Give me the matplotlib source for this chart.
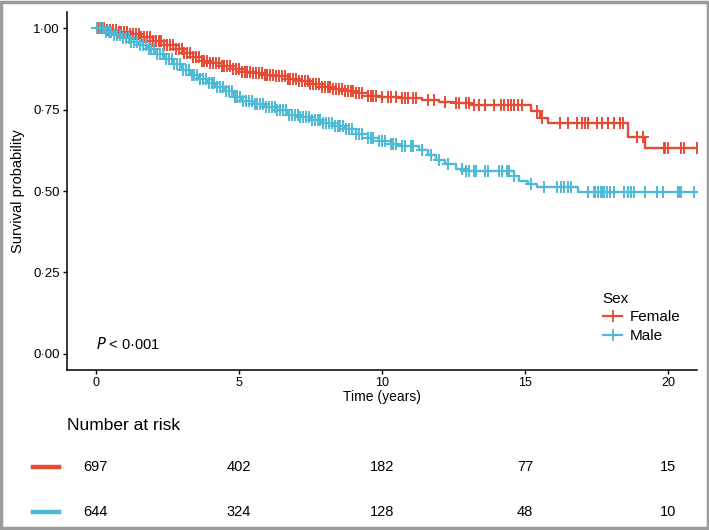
import numpy as np
import matplotlib
matplotlib.use("Agg")
import matplotlib.pyplot as plt
from matplotlib.lines import Line2D
from matplotlib.patches import Rectangle
import matplotlib.transforms as mtransforms

plt.rcParams['font.family'] = ['Liberation Sans', 'DejaVu Sans']

# Kaplan-Meier step knots
fem_t = [0, 0.4, 0.8, 1.2, 1.6, 2.0, 2.4, 2.8, 3.1, 3.4, 3.7, 4.0, 4.4, 4.8, 5.1, 5.5,
         5.9, 6.3, 6.7, 7.1, 7.5, 7.9, 8.3, 8.7, 9.1, 9.5, 10.0, 10.6, 11.4, 12.0, 12.5,
         13.1, 15.2, 15.5, 15.8, 18.6, 19.2, 21.0]
fem_s = [1.0, 0.995, 0.99, 0.982, 0.972, 0.962, 0.95, 0.937, 0.925, 0.912, 0.899, 0.893,
         0.884, 0.874, 0.866, 0.862, 0.857, 0.853, 0.845, 0.838, 0.830, 0.820, 0.812, 0.806,
         0.802, 0.792, 0.788, 0.785, 0.779, 0.774, 0.770, 0.763, 0.745, 0.725, 0.709, 0.666,
         0.632, 0.632]

male_t = [0, 0.3, 0.6, 0.9, 1.2, 1.5, 1.8, 2.1, 2.4, 2.7, 3.0, 3.3, 3.6, 3.9, 4.2, 4.5,
          4.8, 5.1, 5.5, 5.9, 6.3, 6.7, 7.1, 7.5, 7.9, 8.3, 8.7, 9.1, 9.5, 9.9, 10.3, 10.6,
          11.3, 11.6, 11.9, 12.2, 12.6, 12.9, 14.6, 14.8, 15.1, 15.4, 16.85, 20.9]
male_s = [1.0, 0.99, 0.98, 0.97, 0.959, 0.948, 0.935, 0.921, 0.905, 0.889, 0.872, 0.857,
          0.845, 0.832, 0.82, 0.806, 0.79, 0.776, 0.766, 0.757, 0.749, 0.735, 0.726, 0.718,
          0.709, 0.700, 0.690, 0.676, 0.664, 0.653, 0.643, 0.638, 0.625, 0.61, 0.595, 0.583,
          0.568, 0.562, 0.545, 0.53, 0.52, 0.512, 0.497, 0.497]

fem_cens = [0.1, 0.2, 0.3, 0.4, 0.5, 0.6, 0.7, 0.8, 0.9, 1.0, 1.1, 1.2, 1.3, 1.4, 1.5, 1.6,
            1.7, 1.8, 1.9, 2.0, 2.1, 2.2, 2.3, 2.4, 2.5, 2.6, 2.7, 2.8, 2.9, 3.0, 3.1, 3.2,
            3.3, 3.4, 3.5, 3.6, 3.7, 3.8, 3.9, 4.0, 4.1, 4.2, 4.3, 4.4, 4.5, 4.6, 4.7, 4.8,
            4.9, 5.0, 5.1, 5.2, 5.3, 5.4, 5.5, 5.6, 5.7, 5.8, 5.9, 6.0, 6.1, 6.2, 6.3, 6.4,
            6.5, 6.6, 6.7, 6.8, 6.9, 7.0, 7.1, 7.2, 7.3, 7.4, 7.5, 7.6, 7.7, 7.8, 7.9, 8.0,
            8.1, 8.2, 8.3, 8.4, 8.5, 8.6, 8.7, 8.8, 8.9, 9.0, 9.1, 9.2, 9.3, 9.5, 9.6, 9.7,
            9.8, 10.0, 10.2, 10.3, 10.5, 10.7, 10.8, 10.9, 11.1, 11.2, 11.6, 11.8, 12.2,
            12.6, 12.7, 12.95, 13.05, 13.2, 13.4, 13.6, 13.9, 14.15, 14.25, 14.4, 14.5,
            14.6, 14.75, 14.9, 15.4, 15.6, 16.2, 16.5, 16.8, 17.0, 17.1, 17.2, 17.5, 17.7,
            17.9, 18.1, 18.3, 18.4, 18.9, 19.1, 19.85, 19.9, 20.0, 20.45, 20.55, 21.0]
male_cens = [0.05, 0.15, 0.25, 0.35, 0.45, 0.55, 0.65, 0.75, 0.85, 0.95, 1.05, 1.15, 1.25,
             1.35, 1.45, 1.55, 1.65, 1.75, 1.85, 1.95, 2.05, 2.15, 2.25, 2.35, 2.45, 2.55,
             2.65, 2.75, 2.85, 2.95, 3.05, 3.15, 3.25, 3.35, 3.45, 3.55, 3.65, 3.75, 3.85,
             3.95, 4.05, 4.15, 4.25, 4.35, 4.45, 4.55, 4.65, 4.75, 4.85, 4.95, 5.05, 5.15,
             5.25, 5.35, 5.45, 5.55, 5.65, 5.75, 5.85, 5.95, 6.05, 6.15, 6.25, 6.35, 6.45,
             6.55, 6.65, 6.75, 6.85, 6.95, 7.05, 7.15, 7.25, 7.35, 7.45, 7.55, 7.65, 7.75,
             7.85, 7.95, 8.05, 8.15, 8.25, 8.35, 8.45, 8.55, 8.65, 8.75, 8.85, 8.95, 9.1,
             9.2, 9.3, 9.5, 9.6, 9.7, 9.9, 10.0, 10.1, 10.3, 10.4, 10.5, 10.7, 10.8, 11.0,
             11.1, 11.4, 11.7, 12.0, 12.3, 12.8, 12.95, 13.05, 13.2, 13.3, 13.6, 13.7,
             14.1, 14.2, 14.35, 14.45, 14.6, 15.2, 15.65, 16.1, 16.25, 16.35, 16.5, 16.6,
             17.2, 17.4, 17.45, 17.55, 17.65, 17.7, 17.75, 17.85, 17.95, 18.1, 18.45, 18.6,
             18.7, 18.8, 19.2, 19.6, 19.8, 20.35, 20.4, 20.45, 20.9]

groups = ["Female", "Male"]
colors = ["#E64B35", "#4DBBD5"]
risk_times = [0, 5, 10, 15, 20]
risk_fem = [697, 402, 182, 77, 15]
risk_male = [644, 324, 128, 48, 10]


def surv_at(times, t_knots, s_knots):
    idx = np.searchsorted(t_knots, times, side="right") - 1
    return np.array(s_knots)[idx]


fig = plt.figure(figsize=(7.09, 5.30), dpi=100)
ax = fig.add_axes([67 / 709, 1 - 370 / 530, 630 / 709, 358 / 530])

curves = [(fem_t, fem_s, fem_cens), (male_t, male_s, male_cens)]
for (tt, ss, cc), col in zip(curves, colors):
    ax.step(tt, ss, where="post", color=col, lw=1.7, zorder=3)
    ax.plot(cc, surv_at(cc, tt, ss), ls="none", marker="+", ms=8, mew=1.4,
            color=col, zorder=3)

ax.set_xlim(-1.0, 21.0)
ax.set_ylim(-0.05, 1.05)
ax.set_xticks(risk_times)
ax.set_yticks([0, 0.25, 0.5, 0.75, 1.0])
ax.set_yticklabels(["0·00", "0·25", "0·50", "0·75", "1·00"], fontsize=9.5)
ax.set_xticklabels([str(t) for t in risk_times], fontsize=9)
ax.set_xlabel("Time (years)", fontsize=10, labelpad=1)
ax.set_ylabel("Survival probability", fontsize=10.5, labelpad=6)
for s in ["top", "right"]:
    ax.spines[s].set_visible(False)
for s in ["left", "bottom"]:
    ax.spines[s].set_linewidth(1.1)
ax.tick_params(length=3, width=1, color="black", labelcolor="black", pad=2)

ax.text(0, 0.03, r"$P$ < 0·001", fontsize=10.5, ha="left", va="center")

handles = [Line2D([], [], color=c, marker="+", ms=8, mew=1.3, lw=1.6) for c in colors]
leg = ax.legend(handles, groups, title="Sex", loc="upper left",
                bbox_to_anchor=(0.838, 0.24), frameon=False, fontsize=11,
                title_fontsize=11, handlelength=1.3, handletextpad=0.5,
                labelspacing=0.3, alignment="left", borderpad=0)

# number at risk table
trans = mtransforms.blended_transform_factory(ax.transData, fig.transFigure)
fig.text(67 / 709, 1 - 425 / 530, "Number at risk", fontsize=12.5,
         ha="left", va="center")
for row, y_px, col in [(risk_fem, 467, colors[0]), (risk_male, 512, colors[1])]:
    yf = 1 - y_px / 530
    for t, n in zip(risk_times, row):
        fig.text(t, yf, str(n), transform=trans, fontsize=10.5,
                 ha="center", va="center")
    fig.add_artist(Line2D([33 / 709, 59 / 709], [yf, yf], color=col, lw=3.2,
                          transform=fig.transFigure))

# grey frame around the figure
fig.add_artist(Rectangle((0.002, 0.003), 0.996, 0.994, transform=fig.transFigure,
                         fill=False, edgecolor="#9b9b9b", lw=2.5))

fig.savefig("out.png", dpi=100)
